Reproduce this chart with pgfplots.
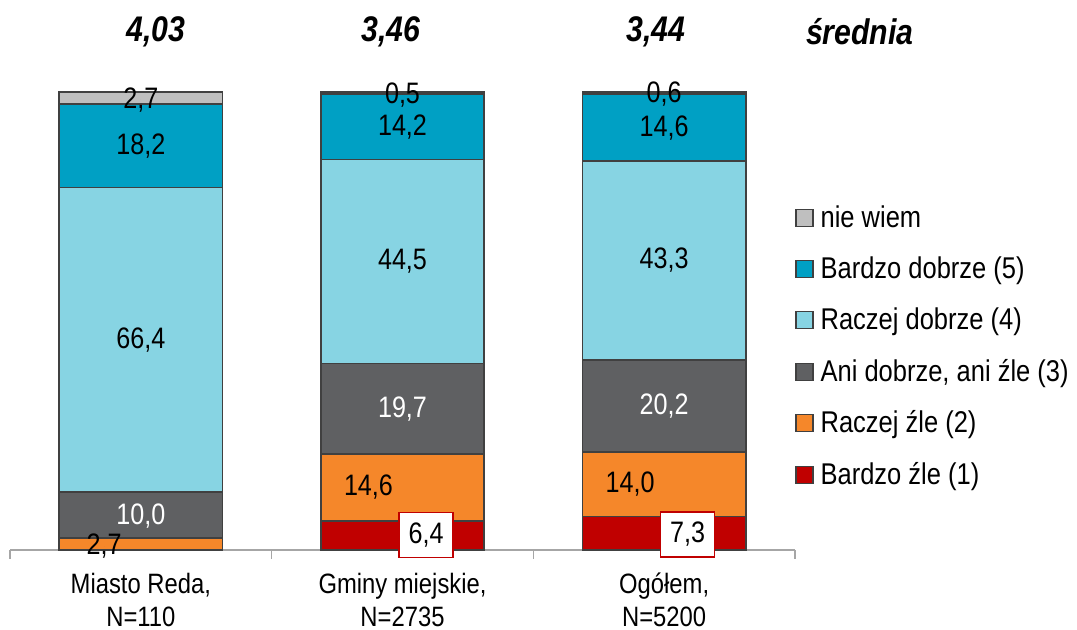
\documentclass[border=0pt]{standalone}
\usepackage{fontspec}
\setmainfont{Liberation Sans}[FakeStretch=0.85]
\usepackage{pgfplots}
\usepackage{pgfplotstable}
\pgfplotsset{compat=1.18}
\definecolor{cNW}{HTML}{BFBFBF}
\definecolor{cBD}{HTML}{00A0C4}
\definecolor{cRD}{HTML}{87D4E3}
\definecolor{cANI}{HTML}{5F6062}
\definecolor{cRZ}{HTML}{F5872A}
\definecolor{cBZ}{HTML}{C00000}
\definecolor{cEdge}{HTML}{404040}
\definecolor{cAxis}{HTML}{A6A6A6}

\pgfplotstableread{
x BZ RZ ANI RD BD NW
0 0 2.7 10.0 66.4 18.2 2.7
1 6.4 14.6 19.7 44.5 14.2 0.5
2 7.3 14.0 20.2 43.3 14.6 0.6
}\bars

\pgfplotstableread{
x y label
0 98.2 2,7
-0.14 0.8 2,7
0 45.9 66,4
0 88.2 18,2
1 99.3 0,5
1 92.3 14,2
1 62.95 44,5
0.87 13.7 14,6
2 99.4 0,6
2 92.1 14,6
2 63.15 43,3
1.87 14.3 14,0
}\blacklabels

\pgfplotstableread{
x y label
0 7.5 10,0
1 30.85 19,7
2 31.4 20,2
}\whitelabels

\pgfplotstableread{
x y label
1.09 3.2 6,4
2.09 3.4 7,3
}\boxlabels

\pgfplotstableread{
x y label
0.058 113.0 4,03
0.956 113.0 3,46
1.969 113.0 3,44
2.748 113.0 średnia
}\means

\begin{document}
\begin{tikzpicture}
\useasboundingbox (0,0) rectangle (538.5pt,315pt);
\pgfplotsset{
  base/.style={at={(5pt,40pt)}, anchor=south west, scale only axis,
    width=392.5pt, height=229.17pt, xmin=-0.5, xmax=2.5, ymin=0, ymax=100, clip=false},
  mybar/.style={fill=#1, draw=cEdge, line width=0.9pt,
    legend image code/.code={\draw[fill=#1, draw=cEdge, line width=0.6pt] (0pt,-4.25pt) rectangle (8.5pt,4.25pt);}},
  lab/.style={only marks, mark=*, mark size=0pt, mark options={draw=none, fill=none},
    nodes near coords, point meta=explicit symbolic},
}
\begin{axis}[base, ybar stacked, bar width=81.6pt,
  axis y line=none, axis x line=bottom,
  x axis line style={-, draw=cAxis, line width=0.6pt},
  xtick={0,1,2},
  xticklabels={{Miasto Reda,\\N=110},{Gminy miejskie,\\N=2735},{Ogółem,\\N=5200}},
  xticklabel style={align=center, font=\fontsize{14}{16.5}\selectfont, yshift=-8pt},
  major tick length=0pt,
  extra x ticks={-0.5,0.5,1.5,2.5}, extra x tick labels={},
  extra x tick style={major tick length=4.5pt, tick align=outside,
    tick style={draw=cAxis, line width=0.6pt}},
  reverse legend, legend cell align=left,
  legend style={at={(1,0.444)}, anchor=west, draw=none, fill=none, inner sep=0pt,
    font=\fontsize{15}{18}\selectfont, row sep=9.2pt,
    /tikz/every odd column/.append style={column sep=1.5pt}},
]
\addplot[mybar=cBZ] table[x=x,y=BZ]{\bars}; \addlegendentry{Bardzo źle (1)}
\addplot[mybar=cRZ] table[x=x,y=RZ]{\bars}; \addlegendentry{Raczej źle (2)}
\addplot[mybar=cANI] table[x=x,y=ANI]{\bars}; \addlegendentry{Ani dobrze, ani źle (3)}
\addplot[mybar=cRD] table[x=x,y=RD]{\bars}; \addlegendentry{Raczej dobrze (4)}
\addplot[mybar=cBD] table[x=x,y=BD]{\bars}; \addlegendentry{Bardzo dobrze (5)}
\addplot[mybar=cNW] table[x=x,y=NW]{\bars}; \addlegendentry{nie wiem}
\end{axis}
\begin{axis}[base, axis lines=none]
\addplot[lab, nodes near coords style={anchor=center, text=black, font=\fontsize{14.8}{16}\selectfont}]
  table[x=x,y=y,meta=label]{\blacklabels};
\addplot[lab, nodes near coords style={anchor=center, text=white, font=\fontsize{14.8}{16}\selectfont}]
  table[x=x,y=y,meta=label]{\whitelabels};
\addplot[lab, nodes near coords style={anchor=center, text=black, fill=white, draw=cBZ,
    line width=0.6pt, minimum width=27pt, minimum height=22.5pt, inner sep=2pt,
    font=\fontsize{14.8}{16}\selectfont}]
  table[x=x,y=y,meta=label]{\boxlabels};
\addplot[lab, nodes near coords style={anchor=center, text=black,
    font=\fontsize{17.8}{20}\selectfont\bfseries\itshape}]
  table[x=x,y=y,meta=label]{\means};
\end{axis}
\end{tikzpicture}
\end{document}
